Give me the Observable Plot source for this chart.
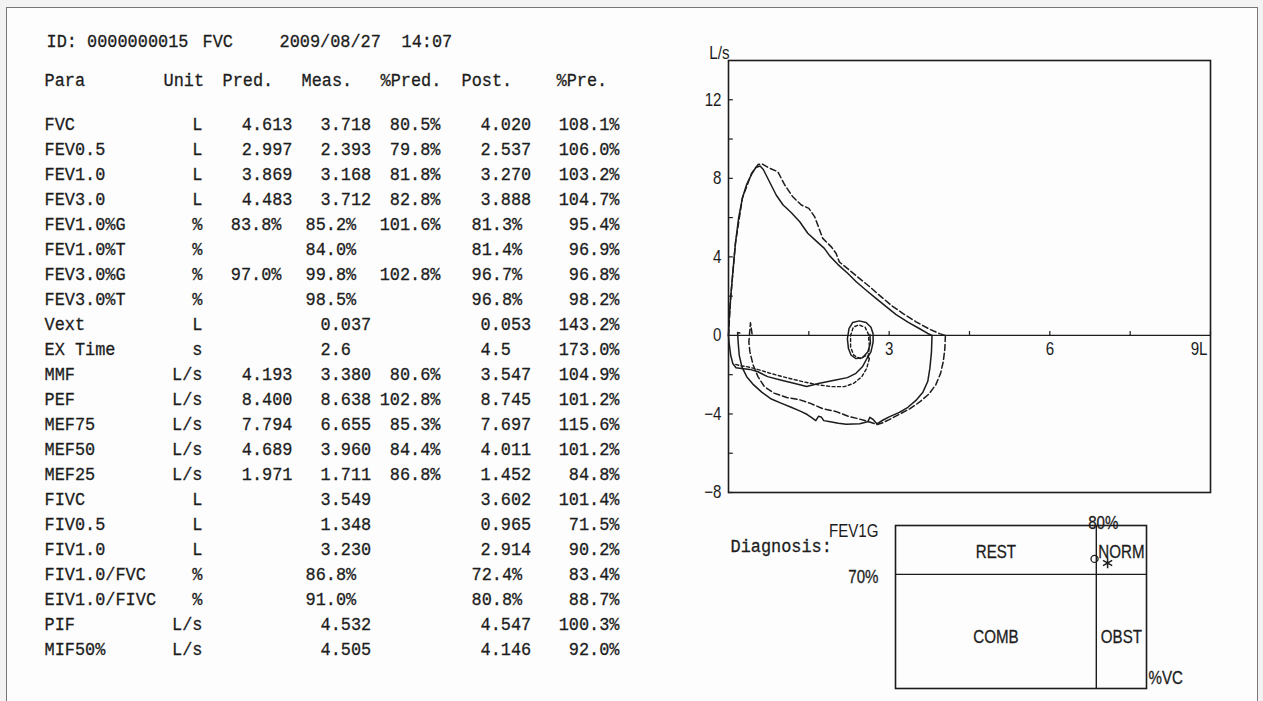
<!DOCTYPE html>
<html><head><meta charset="utf-8">
<script src="https://cdn.jsdelivr.net/npm/d3@7"></script>
<script src="https://cdn.jsdelivr.net/npm/@observablehq/plot@0.6"></script>
<style>
html,body{margin:0;padding:0;background:#f3f3f3;}
#page{position:relative;width:1263px;height:701px;overflow:hidden;background:#f3f3f3;}
#sheet{position:absolute;left:6px;top:7px;width:1250px;height:700px;background:#fdfdfd;border-left:1px solid #777;border-top:1px solid #777;border-right:1px solid #777;}
.panel{position:absolute;}
</style></head>
<body>
<div id="page">
  <div id="sheet"></div>
  <div id="table" class="panel" style="left:0;top:0"></div>
  <div id="flow" class="panel" style="left:690px;top:0"></div>
  <div id="diag" class="panel" style="left:690px;top:505px"></div>
</div>
<script>
// ---------- table data ----------
const titleParts = ["ID: 0000000015", "FVC", "2009/08/27", "14:07"];
const headers = ["Para", "Unit", "Pred.", "Meas.", "%Pred.", "Post.", "%Pre."];
const params = ["FVC","FEV0.5","FEV1.0","FEV3.0","FEV1.0%G","FEV1.0%T","FEV3.0%G","FEV3.0%T","Vext","EX Time","MMF","PEF","MEF75","MEF50","MEF25","FIVC","FIV0.5","FIV1.0","FIV1.0/FVC","EIV1.0/FIVC","PIF","MIF50%"];
const units = ["L","L","L","L","%","%","%","%","L","s","L/s","L/s","L/s","L/s","L/s","L","L","L","%","%","L/s","L/s"];
const pred = ["4.613","2.997","3.869","4.483","83.8%","","97.0%","","","","4.193","8.400","7.794","4.689","1.971","","","","","","",""];
const meas = ["3.718","2.393","3.168","3.712","85.2%","84.0%","99.8%","98.5%","0.037","2.6","3.380","8.638","6.655","3.960","1.711","3.549","1.348","3.230","86.8%","91.0%","4.532","4.505"];
const pctPred = ["80.5%","79.8%","81.8%","82.8%","101.6%","","102.8%","","","","80.6%","102.8%","85.3%","84.4%","86.8%","","","","","","",""];
const post = ["4.020","2.537","3.270","3.888","81.3%","81.4%","96.7%","96.8%","0.053","4.5","3.547","8.745","7.697","4.011","1.452","3.602","0.965","2.914","72.4%","80.8%","4.547","4.146"];
const pctPre = ["108.1%","106.0%","103.2%","104.7%","95.4%","96.9%","96.8%","98.2%","143.2%","173.0%","104.9%","101.2%","115.6%","101.2%","84.8%","101.4%","71.5%","90.2%","83.4%","88.7%","100.3%","92.0%"];

// ---------- flow-volume data: [volume L, flow L/s] ----------
const preExp = [[0,0],[0.01,0.8],[0.04,1.9],[0.08,3.2],[0.13,4.7],[0.19,6.0],[0.26,7.0],[0.34,7.7],[0.43,8.2],[0.51,8.55],[0.59,8.63],[0.65,8.45],[0.77,7.8],[0.89,7.15],[1.02,6.64],[1.17,6.26],[1.33,5.79],[1.48,5.2],[1.64,4.8],[1.79,4.43],[1.89,4.05],[2.04,3.62],[2.23,3.15],[2.39,2.72],[2.57,2.3],[2.76,1.87],[2.95,1.45],[3.13,1.06],[3.35,0.68],[3.57,0.34],[3.72,0.1],[3.8,0]];
const preInspOuter = [[3.8,0],[3.79,-0.84],[3.76,-1.68],[3.72,-2.35],[3.63,-2.89],[3.5,-3.31],[3.35,-3.66],[3.19,-3.92],[3.0,-4.15],[2.88,-4.32],[2.77,-4.5],[2.7,-4.28],[2.64,-4.17],[2.6,-4.4],[2.45,-4.5],[2.2,-4.52],[2.05,-4.47],[1.9,-4.4],[1.78,-4.34],[1.73,-4.15],[1.68,-4.12],[1.63,-4.34],[1.56,-4.2],[1.47,-4.03],[1.35,-3.87],[1.17,-3.66],[0.98,-3.45],[0.8,-3.24],[0.62,-2.89],[0.47,-2.52],[0.34,-2.1],[0.25,-1.6],[0.2,-1.0],[0.18,-0.34],[0.17,0.15],[0.21,0.12]];
const preInspInner = [[2.6,-1.1],[2.5,-1.6],[2.38,-1.93],[2.22,-2.15],[2.0,-2.27],[1.7,-2.44],[1.46,-2.6],[1.22,-2.44],[0.97,-2.27],[0.73,-2.1],[0.55,-1.85],[0.4,-1.73],[0.24,-1.68],[0.14,-1.65],[0.08,-1.43],[0.04,-1.0],[0.01,-0.34],[0,0]];
const preTidal = [[2.6,-1.1],[2.66,-0.84],[2.7,-0.34],[2.7,0.08],[2.66,0.42],[2.57,0.66],[2.44,0.74],[2.32,0.66],[2.25,0.34],[2.22,-0.17],[2.24,-0.67],[2.29,-1.01],[2.38,-1.18],[2.5,-1.14],[2.6,-0.84],[2.65,-0.4],[2.64,0.05]];
const postExp = [[0,0],[0.04,1.9],[0.13,4.7],[0.26,7.0],[0.43,8.25],[0.55,8.7],[0.62,8.74],[0.77,8.51],[0.92,8.34],[1.05,7.66],[1.2,7.06],[1.36,6.64],[1.5,6.47],[1.61,6.04],[1.69,5.45],[1.76,4.94],[1.92,4.51],[2.01,4.17],[2.07,3.74],[2.26,3.32],[2.45,2.89],[2.64,2.47],[2.82,2.04],[3.04,1.53],[3.26,1.11],[3.51,0.68],[3.76,0.31],[3.94,0.09],[4.05,0]];
const postInspOuter = [[4.05,0],[4.04,-0.67],[4.01,-1.34],[3.96,-1.93],[3.87,-2.52],[3.74,-2.99],[3.57,-3.39],[3.39,-3.73],[3.18,-4.03],[3.0,-4.29],[2.88,-4.45],[2.78,-4.54],[2.62,-4.4],[2.42,-4.24],[2.24,-4.12],[2.0,-3.87],[1.76,-3.73],[1.52,-3.45],[1.33,-3.28],[1.09,-3.16],[0.85,-2.94],[0.67,-2.61],[0.55,-2.1],[0.46,-1.51],[0.4,-0.84],[0.38,-0.34],[0.41,0.64],[0.44,0.08]];
const postInspInner = [[2.63,-1.18],[2.58,-1.68],[2.49,-2.1],[2.34,-2.44],[2.16,-2.61],[1.92,-2.61],[1.68,-2.52],[1.38,-2.35],[1.08,-2.15],[0.78,-1.93],[0.54,-1.73],[0.36,-1.6],[0.23,-1.55],[0.1,-1.45]];
const postTidal = [[2.61,-1.09],[2.63,-0.5],[2.61,0.08],[2.55,0.42],[2.43,0.54],[2.33,0.42],[2.28,0],[2.28,-0.59],[2.34,-1.01],[2.46,-1.18],[2.58,-1.01],[2.63,-1.18]];
const yMinorTicks = [-8,-6,-4,-2,2,4,6,8,10,12];
const yTickLabels = [-8,-4,0,4,8,12];
const xMinorTicks = [1.5,3,4.5,6,7.5,9];
const xTickLabels = [3,6];
const xLastLabel = [9];

// ---------- diagnosis data ----------
const vcCut = 80;      // %VC threshold
const fevCut = 70;     // FEV1G threshold
const diagZones = ["REST","NORM","COMB","OBST"];
const preDiag = [79.3, 79.5];   // [%VC, FEV1G]
const postDiag = [84.5, 77];

// ---------- styles ----------
const MONO = "'Liberation Mono','DejaVu Sans Mono',monospace";
const SANS = "'Liberation Sans',Arial,sans-serif";
const INK = "#1c1c1c";

// squeeze glyphs horizontally (tall, narrow printer faces); keeps anchor points
function condense(svg, family, k) {
  svg.querySelectorAll("g[font-family]").forEach(g => {
    if (!g.getAttribute("font-family").includes(family)) return;
    g.querySelectorAll("text").forEach(t => {
      const xa = t.getAttribute("x");
      if (xa !== null && !isNaN(parseFloat(xa))) t.setAttribute("x", parseFloat(xa) / k);
      const tr = t.getAttribute("transform") || "";
      t.setAttribute("transform", `${tr} scale(${k},1)`);
    });
  });
  return svg;
}

// ---------- table ----------
const rows = params.map((p, i) => ({para: p, unit: units[i], pred: pred[i], meas: meas[i], pctPred: pctPred[i], post: post[i], pctPre: pctPre[i]}));
const isPct = s => s.endsWith("%");
const txt = {fontFamily: MONO, fontSize: 19, fill: INK, stroke: INK, strokeWidth: 0.3};
const headerX = [44, 163, 222, 301, 380, 461, 556];
const titleX = [46, 202, 279, 401];
function cell(key, dx, anchor, pct) {
  return Plot.text(rows, {filter: d => d[key] !== "" && isPct(d[key]) === pct, y: "para", text: key, frameAnchor: "left", dx, textAnchor: anchor, ...txt});
}
const tableSvg = Plot.plot({
  width: 690, height: 701, margin: 0,
  y: {type: "point", domain: params, range: [110, 660], axis: null},
  marks: [
    ...titleParts.map((t, i) => Plot.text([t], {frameAnchor: "top-left", dx: titleX[i], dy: 33, textAnchor: "start", ...txt})),
    ...headers.map((h, i) => Plot.text([h], {frameAnchor: "top-left", dx: headerX[i], dy: 72, textAnchor: "start", ...txt})),
    Plot.text(rows, {y: "para", text: "para", frameAnchor: "left", dx: 44, textAnchor: "start", ...txt}),
    Plot.text(rows, {y: "para", text: "unit", frameAnchor: "left", dx: 202, textAnchor: "end", ...txt}),
    cell("pred", 292, "end", false), cell("pred", 281, "end", true),
    cell("meas", 320, "start", false), cell("meas", 305, "start", true),
    cell("pctPred", 440, "end", true),
    cell("post", 480, "start", false), cell("post", 471, "start", true),
    cell("pctPre", 619, "end", true)
  ]
});
document.getElementById("table").appendChild(condense(tableSvg, "Mono", 0.89));

// ---------- flow-volume plot ----------
const solid = {stroke: INK, strokeWidth: 1.5};
const dashA = {stroke: INK, strokeWidth: 1.5, strokeDasharray: "6,3"};
const dashB = {stroke: INK, strokeWidth: 1.4, strokeDasharray: "3,2.5"};
const xy = {x: d => d[0], y: d => d[1]};
const lab = {fontFamily: SANS, fontSize: 18, fill: INK};
const flowSvg = Plot.plot({
  width: 573, height: 505, marginLeft: 38, marginRight: 53, marginTop: 60, marginBottom: 13,
  x: {domain: [0, 9], axis: null},
  y: {domain: [-8, 14], axis: null},
  marks: [
    Plot.frame({stroke: INK, strokeWidth: 1.6}),
    Plot.ruleY([0], {stroke: INK, strokeWidth: 1.4}),
    Plot.ruleY(yMinorTicks, {y: d => d, x1: 0, x2: 0.09, stroke: INK, strokeWidth: 1.2}),
    Plot.ruleX(xMinorTicks, {x: d => d, y1: 0, y2: 0.2, stroke: INK, strokeWidth: 1.2}),
    Plot.text(yTickLabels, {y: d => d, text: d => String(d).replace("-", "\u2212"), frameAnchor: "left", textAnchor: "end", dx: -7, ...lab}),
    Plot.text(xTickLabels, {x: d => d, y: 0, text: d => String(d), dy: 14, textAnchor: "middle", ...lab}),
    Plot.text(xLastLabel, {x: d => d, y: 0, text: d => d + "L", dy: 14, dx: -3, textAnchor: "end", ...lab}),
    Plot.text(["L/s"], {frameAnchor: "top-left", textAnchor: "end", lineAnchor: "bottom", dx: 1, dy: -2, ...lab}),
    Plot.line(preExp, {...xy, ...solid}),
    Plot.line(preInspOuter, {...xy, ...solid}),
    Plot.line(preInspInner, {...xy, ...solid}),
    Plot.line(preTidal, {...xy, ...solid}),
    Plot.line(postExp, {...xy, ...dashA}),
    Plot.line(postInspOuter, {...xy, ...dashA}),
    Plot.line(postInspInner, {...xy, ...dashB}),
    Plot.line(postTidal, {...xy, ...dashB})
  ]
});
document.getElementById("flow").appendChild(condense(flowSvg, "Liberation Sans", 0.84));

// ---------- diagnosis chart ----------
const zonePos = [
  {label: diagZones[0], x: vcCut / 2, y: (fevCut + 100) / 2, low: false},
  {label: diagZones[1], x: (vcCut + 100) / 2, y: (fevCut + 100) / 2, low: false},
  {label: diagZones[2], x: vcCut / 2, y: fevCut / 2, low: true},
  {label: diagZones[3], x: (vcCut + 100) / 2, y: fevCut / 2, low: true}
];
const labB = {...lab, stroke: INK, strokeWidth: 0.3};
const diagSvg = Plot.plot({
  width: 573, height: 196, marginLeft: 205, marginRight: 117, marginTop: 20, marginBottom: 13,
  x: {domain: [0, 100], axis: null},
  y: {domain: [0, 100], axis: null},
  marks: [
    Plot.frame({stroke: INK, strokeWidth: 1.6}),
    Plot.ruleX([vcCut], {x: d => d, stroke: INK, strokeWidth: 1.4}),
    Plot.ruleY([fevCut], {y: d => d, stroke: INK, strokeWidth: 1.4}),
    Plot.text(zonePos.filter(d => !d.low), {x: "x", y: "y", text: "label", dy: 2, ...labB}),
    Plot.text(zonePos.filter(d => d.low), {x: "x", y: "y", text: "label", dy: 6, ...labB}),
    Plot.text([vcCut], {x: d => d, frameAnchor: "top", text: d => d + "%", lineAnchor: "bottom", dx: 7, dy: 3, ...labB}),
    Plot.text([fevCut], {y: d => d, frameAnchor: "left", text: d => d + "%", textAnchor: "end", dx: -17, dy: 3, ...labB}),
    Plot.text(["FEV1G"], {frameAnchor: "top-left", textAnchor: "end", dx: -17, dy: -1, ...lab}),
    Plot.text(["%VC"], {frameAnchor: "bottom-right", textAnchor: "start", dx: 2, dy: -5, ...labB}),
    Plot.text(["Diagnosis:"], {frameAnchor: "top-left", textAnchor: "start", dx: -165, dy: 13, ...txt}),
    Plot.dot([preDiag], {x: d => d[0], y: d => d[1], r: 3.5, stroke: INK, strokeWidth: 1.3, fill: "none"}),
    Plot.dot([postDiag], {x: d => d[0], y: d => d[1], r: 5, symbol: "asterisk", stroke: INK, strokeWidth: 1.5})
  ]
});
condense(diagSvg, "Liberation Sans", 0.84);
condense(diagSvg, "Mono", 0.89);
document.getElementById("diag").appendChild(diagSvg);
</script>
</body></html>
